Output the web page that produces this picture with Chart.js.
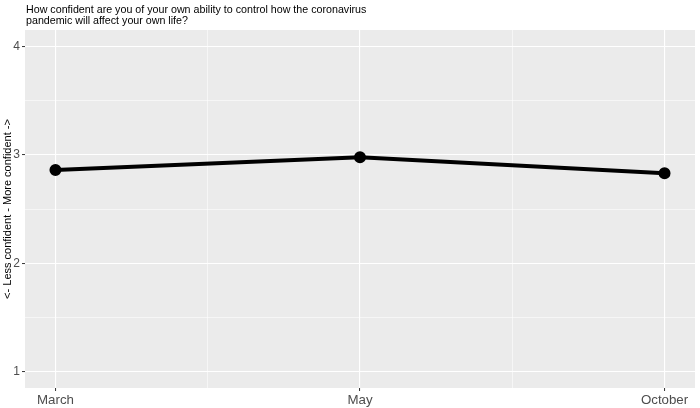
<!DOCTYPE html>
<html>
<head>
<meta charset="utf-8">
<script src="https://cdn.jsdelivr.net/npm/chart.js@4/dist/chart.umd.min.js"></script>
<style>
html,body{margin:0;padding:0;background:#fff;}
#wrap{width:700px;height:408px;}
</style>
</head>
<body>
<div id="wrap"><canvas id="c" width="700" height="408"></canvas></div>
<script>
const categories = ['March', 'May', 'October'];
const values = [2.86, 2.976, 2.83];
const yTicks = [1, 2, 3, 4];
const titleLines = ['How confident are you of your own ability to control how the coronavirus', 'pandemic will affect your own life?'];
const yTitle = '<- Less confident - More confident ->';

const FONT = "'Liberation Sans', Arial, sans-serif";
const points = values.map((v, i) => ({x: i, y: v}));

const xMajor = categories.map((c, i) => i);
const xAll = [];
for (let i = 0; i < xMajor.length; i++) { xAll.push(i); if (i < xMajor.length - 1) xAll.push(i + 0.5); }
const yAll = [];
for (let i = 0; i < yTicks.length; i++) { yAll.push(yTicks[i]); if (i < yTicks.length - 1) yAll.push(yTicks[i] + 0.5); }

const isMajor = v => Math.abs(v - Math.round(v)) < 1e-9;

const panelBg = {
  id: 'panelBg',
  beforeDraw(chart) {
    const a = chart.chartArea, ctx = chart.ctx;
    ctx.save();
    ctx.fillStyle = '#EBEBEB';
    ctx.fillRect(a.left, a.top, a.right - a.left, a.bottom - a.top);
    ctx.restore();
  },
  afterDraw(chart) {
    const a = chart.chartArea, ctx = chart.ctx;
    ctx.save();
    ctx.fillStyle = '#000';
    ctx.font = '10.7px ' + FONT;
    ctx.textBaseline = 'alphabetic';
    ctx.textAlign = 'left';
    titleLines.forEach((t, i) => ctx.fillText(t, a.left + 1, 12.5 + i * 11.2));
    ctx.restore();
  }
};

new Chart(document.getElementById('c'), {
  type: 'line',
  data: {
    datasets: [{
      data: points,
      borderColor: '#000',
      backgroundColor: '#000',
      borderWidth: 4,
      pointRadius: 4,
      pointHoverRadius: 4,
      tension: 0,
      fill: false
    }]
  },
  options: {
    responsive: false,
    animation: false,
    events: [],
    layout: {autoPadding: false, padding: {top: 30, right: 5, left: 0, bottom: 0}},
    plugins: {legend: {display: false}, tooltip: {enabled: false}, title: {display: false}},
    scales: {
      x: {
        type: 'linear',
        min: -0.1,
        max: 2.1,
        afterBuildTicks: s => { s.ticks = xAll.map(v => ({value: v})); },
        afterFit: s => { s.height = 20; s.paddingLeft = 0; s.paddingRight = 0; },
        border: {display: false},
        grid: {
          color: '#FFFFFF',
          lineWidth: ctx => isMajor(ctx.tick.value) ? 1.1 : 0.55,
          drawTicks: true,
          tickLength: 3,
          tickColor: ctx => isMajor(ctx.tick.value) ? '#333333' : 'rgba(0,0,0,0)',
          tickWidth: 1
        },
        ticks: {
          autoSkip: false,
          maxRotation: 0,
          padding: 1,
          color: '#4D4D4D',
          font: {family: FONT, size: 13.3},
          callback: v => isMajor(v) ? categories[Math.round(v)] : ''
        }
      },
      y: {
        type: 'linear',
        min: 0.85,
        max: 4.15,
        afterBuildTicks: s => { s.ticks = yAll.map(v => ({value: v})); },
        afterFit: s => { s.width = 25; s.paddingTop = 0; s.paddingBottom = 0; },
        border: {display: false},
        grid: {
          color: '#FFFFFF',
          lineWidth: ctx => isMajor(ctx.tick.value) ? 1.1 : 0.55,
          drawTicks: true,
          tickLength: 3,
          tickColor: ctx => isMajor(ctx.tick.value) ? '#333333' : 'rgba(0,0,0,0)',
          tickWidth: 1
        },
        ticks: {
          padding: 2,
          color: '#4D4D4D',
          font: {family: FONT, size: 12},
          callback: v => isMajor(v) ? String(v) : ''
        },
        title: {
          display: true,
          text: yTitle,
          color: '#000',
          font: {family: FONT, size: 11},
          padding: {top: 1, bottom: 0}
        }
      }
    }
  },
  plugins: [panelBg]
});
</script>
</body>
</html>
